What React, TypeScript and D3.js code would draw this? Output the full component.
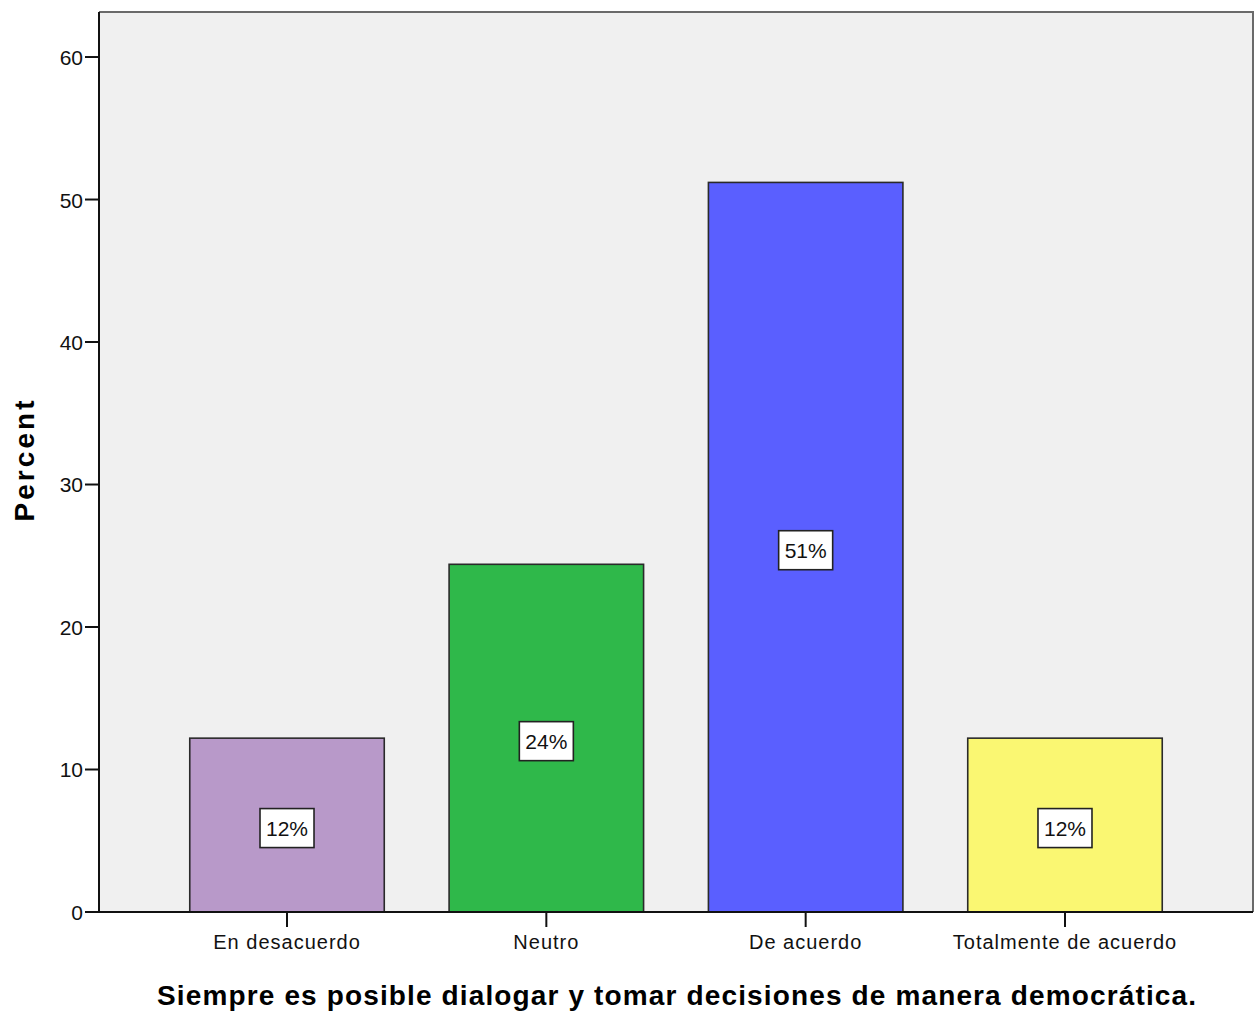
import React, { useEffect, useRef } from "react";
import * as d3 from "d3";

const categories = ["En desacuerdo", "Neutro", "De acuerdo", "Totalmente de acuerdo"];
const percents = [12.2, 24.4, 51.2, 12.2];
const barLabels = ["12%", "24%", "51%", "12%"];
const barColors = ["#b899c9", "#2fb84a", "#5a5fff", "#faf772"];
const yTicks = [0, 10, 20, 30, 40, 50, 60];
const xTitle = "Siempre es posible dialogar y tomar decisiones de manera democrática.";
const yTitle = "Percent";

const W = 1256;
const H = 1013;
const plot = { left: 99, top: 12, right: 1253, bottom: 912 };

export default function App() {
  const ref = useRef<SVGSVGElement>(null);

  useEffect(() => {
    const svg = d3.select(ref.current);
    svg.selectAll("*").remove();

    const x = d3
      .scaleBand<string>()
      .domain(categories)
      .range([plot.left, plot.right])
      .paddingInner(0.25)
      .paddingOuter(0.35);
    const y = d3.scaleLinear().domain([0, 63.16]).range([plot.bottom, plot.top]);

    const font = "'Liberation Sans', Arial, sans-serif";

    svg
      .append("rect")
      .attr("x", plot.left)
      .attr("y", plot.top)
      .attr("width", plot.right - plot.left)
      .attr("height", plot.bottom - plot.top)
      .attr("fill", "#f0f0f0");

    svg
      .append("path")
      .attr("d", `M${plot.left},${plot.top}H${plot.right}V${plot.bottom}`)
      .attr("fill", "none")
      .attr("stroke", "#6a6a6a")
      .attr("stroke-width", 2);

    const data = categories.map((c, i) => ({ c, v: percents[i], l: barLabels[i], col: barColors[i] }));

    const g = svg.append("g");
    g.selectAll("rect.bar")
      .data(data)
      .join("rect")
      .attr("class", "bar")
      .attr("x", (d) => x(d.c)!)
      .attr("y", (d) => y(d.v))
      .attr("width", x.bandwidth())
      .attr("height", (d) => y(0) - y(d.v))
      .attr("fill", (d) => d.col)
      .attr("stroke", "#2a2a2a")
      .attr("stroke-width", 1.6);

    const lab = g
      .selectAll("g.lab")
      .data(data)
      .join("g")
      .attr("class", "lab")
      .attr("transform", (d) => `translate(${x(d.c)! + x.bandwidth() / 2},${y(d.v / 2) + 3})`);
    lab
      .append("rect")
      .attr("x", -27)
      .attr("y", -19.5)
      .attr("width", 54)
      .attr("height", 39)
      .attr("fill", "#ffffff")
      .attr("stroke", "#222")
      .attr("stroke-width", 1.6);
    lab
      .append("text")
      .attr("text-anchor", "middle")
      .attr("dy", "0.36em")
      .attr("font-family", font)
      .attr("font-size", 21)
      .attr("fill", "#111")
      .text((d) => d.l);

    const yAxis = svg.append("g").attr("transform", `translate(${plot.left},0)`);
    yAxis
      .append("line")
      .attr("x1", 0)
      .attr("x2", 0)
      .attr("y1", plot.top)
      .attr("y2", plot.bottom)
      .attr("stroke", "#111")
      .attr("stroke-width", 2);
    const yt = yAxis.selectAll("g.t").data(yTicks).join("g").attr("transform", (d) => `translate(0,${y(d)})`);
    yt.append("line").attr("x1", -14).attr("x2", 0).attr("stroke", "#111").attr("stroke-width", 2);
    yt.append("text")
      .attr("x", -16)
      .attr("dy", "0.38em")
      .attr("text-anchor", "end")
      .attr("font-family", font)
      .attr("font-size", 21)
      .attr("fill", "#111")
      .text((d) => String(d));

    const xAxis = svg.append("g").attr("transform", `translate(0,${plot.bottom})`);
    xAxis
      .append("line")
      .attr("x1", plot.left - 14)
      .attr("x2", plot.right)
      .attr("stroke", "#111")
      .attr("stroke-width", 2);
    const xt = xAxis
      .selectAll("g.t")
      .data(categories)
      .join("g")
      .attr("transform", (d) => `translate(${x(d)! + x.bandwidth() / 2},0)`);
    xt.append("line").attr("y1", 0).attr("y2", 15).attr("stroke", "#111").attr("stroke-width", 2);
    xt.append("text")
      .attr("y", 37)
      .attr("text-anchor", "middle")
      .attr("font-family", font)
      .attr("font-size", 20)
      .attr("letter-spacing", 1)
      .attr("fill", "#111")
      .text((d) => d);

    svg
      .append("text")
      .attr("x", (157 + 1196) / 2)
      .attr("y", 1005)
      .attr("text-anchor", "middle")
      .attr("font-family", font)
      .attr("font-weight", "bold")
      .attr("font-size", 28)
      .attr("textLength", 1039)
      .attr("lengthAdjust", "spacing")
      .attr("fill", "#000")
      .text(xTitle);

    svg
      .append("text")
      .attr("transform", `translate(34,461) rotate(-90)`)
      .attr("text-anchor", "middle")
      .attr("font-family", font)
      .attr("font-weight", "bold")
      .attr("font-size", 28)
      .attr("textLength", 121)
      .attr("lengthAdjust", "spacing")
      .attr("fill", "#000")
      .text(yTitle);
  }, []);

  return (
    <svg
      ref={ref}
      width={W}
      height={H}
      style={{ position: "absolute", left: 0, top: 0, display: "block", background: "#fff" }}
    />
  );
}
